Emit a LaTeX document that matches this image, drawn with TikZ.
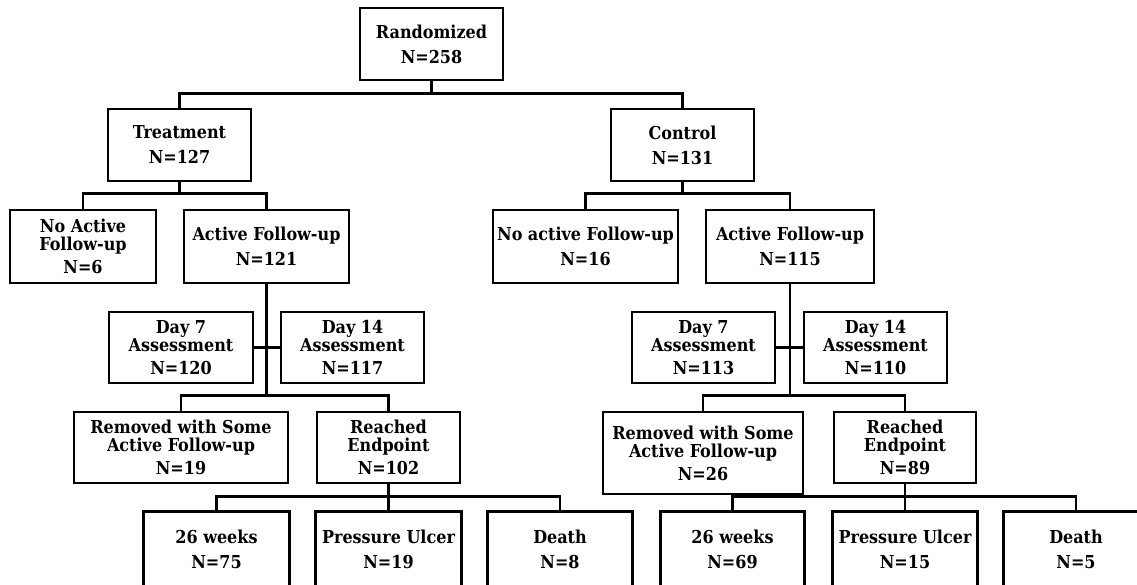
\documentclass[tikz,border=0pt]{standalone}
\usepackage{fontspec}
\setmainfont{DejaVu Serif Condensed}
\newcommand\nval[1]{N=#1}
\tikzset{
  box/.style={draw, line width=2.6pt, inner sep=0pt, align=center,
    font=\bfseries\fontsize{17.8}{18}\selectfont},
  openbox/.style={box, draw=none},
  link/.style={line width=2.6pt}
}
\begin{document}
\begin{tikzpicture}[x=1pt,y=-1pt]
\useasboundingbox (0,0) rectangle (1137,584);
% level 0
\node[box, minimum width=143pt, minimum height=72pt] (rand) at (431.5,44) {Randomized\\[7pt]\nval{258}};
% level 1
\node[box, minimum width=143pt, minimum height=72pt] (treat) at (179.5,145) {Treatment\\[7pt]\nval{127}};
\node[box, minimum width=143pt, minimum height=72pt] (ctrl) at (682.5,145) {Control\\[7pt]\nval{131}};
% level 2
\node[box, minimum width=146pt, minimum height=73pt] (noT) at (83,246.5) {No Active\\Follow-up\\[5pt]\nval{6}};
\node[box, minimum width=165pt, minimum height=73pt] (afT) at (266.5,246.5) {Active Follow-up\\[7pt]\nval{121}};
\node[box, minimum width=185pt, minimum height=73pt] (noC) at (585.5,246.5) {No active Follow-up\\[7pt]\nval{16}};
\node[box, minimum width=168pt, minimum height=73pt] (afC) at (790,246.5) {Active Follow-up\\[7pt]\nval{115}};
% level 3
\node[box, minimum width=144pt, minimum height=71pt] (d7T) at (181,347.5) {Day 7\\Assessment\\[5pt]\nval{120}};
\node[box, minimum width=143pt, minimum height=71pt] (d14T) at (352.5,347.5) {Day 14\\Assessment\\[5pt]\nval{117}};
\node[box, minimum width=143pt, minimum height=71pt] (d7C) at (703.5,347.5) {Day 7\\Assessment\\[5pt]\nval{113}};
\node[box, minimum width=143pt, minimum height=71pt] (d14C) at (875.5,347.5) {Day 14\\Assessment\\[5pt]\nval{110}};
% level 4
\node[box, minimum width=214pt, minimum height=71pt] (remT) at (181,447.5) {Removed with Some\\Active Follow-up\\[5pt]\nval{19}};
\node[box, minimum width=143pt, minimum height=71pt] (reachT) at (388.5,447.5) {Reached\\Endpoint\\[5pt]\nval{102}};
\node[box, minimum width=200pt, minimum height=82pt] (remC) at (703,453) {Removed with Some\\Active Follow-up\\[5pt]\nval{26}};
\node[box, minimum width=142pt, minimum height=71pt] (reachC) at (905,447.5) {Reached\\Endpoint\\[5pt]\nval{89}};
% level 5 (boxes run off the bottom edge)
\node[openbox, minimum width=143pt, minimum height=72pt] (wT) at (216.5,549) {26 weeks\\[7pt]\nval{75}};
\node[openbox, minimum width=143pt, minimum height=72pt] (puT) at (388.5,549) {Pressure Ulcer\\[7pt]\nval{19}};
\node[openbox, minimum width=142pt, minimum height=72pt] (deT) at (560,549) {Death\\[7pt]\nval{8}};
\node[openbox, minimum width=141pt, minimum height=72pt] (wC) at (732.5,549) {26 weeks\\[7pt]\nval{69}};
\node[openbox, minimum width=142pt, minimum height=72pt] (puC) at (905,549) {Pressure Ulcer\\[7pt]\nval{15}};
\node[openbox, minimum width=142pt, minimum height=72pt] (deC) at (1076,549) {Death\\[7pt]\nval{5}};
\foreach \n in {wT,puT,deT,wC,puC,deC}
  \draw[link] ([yshift=-10pt]\n.south west) -- (\n.north west) -- (\n.north east) -- ([yshift=-10pt]\n.south east);
% connectors
\draw[link] (treat.north) -- ++(0,-14) coordinate (b0) -| (ctrl.north);
\draw[link] (rand.south) -- (rand.south |- b0);
\draw[link] (noT.north) -- ++(0,-15) coordinate (b1) -| (afT.north);
\draw[link] (treat.south) -- (treat.south |- b1);
\draw[link] (noC.north) -- ++(0,-15) coordinate (b2) -| (afC.north);
\draw[link] (ctrl.south) -- (ctrl.south |- b2);
\draw[link] (remT.north) -- ++(0,-15) coordinate (b3) -| (reachT.north);
\draw[link] (afT.south) -- (afT.south |- b3);
\draw[link] (d7T.east) -- (d14T.west);
\draw[link] (remC.north) -- ++(0,-15) coordinate (b4) -| (reachC.north);
\draw[link] (afC.south) -- (afC.south |- b4);
\draw[link] (d7C.east) -- (d14C.west);
\draw[link] (wT.north) -- ++(0,-15) coordinate (b5) -| (deT.north);
\draw[link] (reachT.south) -- (puT.north);
\draw[link] (wC.north) -- ++(0,-15) coordinate (b6) -| (deC.north);
\draw[link] (reachC.south) -- (puC.north);
\end{tikzpicture}
\end{document}
